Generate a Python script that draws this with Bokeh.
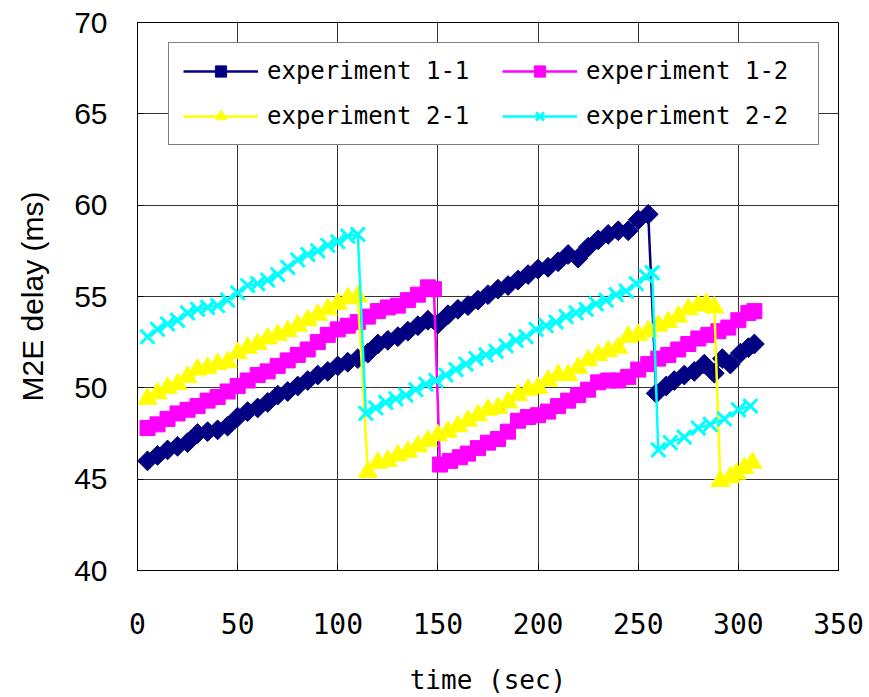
import math
from bokeh.plotting import figure
from bokeh.models import Legend, LegendItem, FixedTicker, Range1d
from bokeh.embed import file_html
from bokeh.resources import INLINE

x_ticks = [0, 50, 100, 150, 200, 250, 300, 350]
y_ticks = [40, 45, 50, 55, 60, 65, 70]

# experiment 1-1
t11 = [5, 10, 15, 20, 25, 30, 35, 40, 45, 50, 55, 60, 65, 70, 75, 80, 85, 90, 95, 100,
       105, 110, 115, 120, 125, 130, 135, 140, 145, 150, 155, 160, 165, 170, 175, 180,
       185, 190, 195, 200, 205, 210, 215, 220, 225, 230, 235, 240, 245, 250, 255,
       259, 264, 268, 273, 278, 283, 288, 292, 296, 301, 305, 308]
v11 = [46.0, 46.3, 46.6, 46.8, 47.0, 47.5, 47.6, 47.7, 47.9, 48.4, 48.7, 48.9, 49.2, 49.6,
       49.8, 50.1, 50.4, 50.7, 50.9, 51.2, 51.4, 51.6, 51.9, 52.4, 52.6, 52.8, 53.1, 53.4,
       53.7, 53.5, 54.0, 54.3, 54.5, 54.8, 55.1, 55.4, 55.6, 55.9, 56.2, 56.5, 56.6, 56.9,
       57.3, 57.1, 57.7, 58.1, 58.4, 58.6, 58.6, 59.2, 59.5,
       49.7, 50.1, 50.4, 50.7, 50.9, 51.3, 50.8, 51.6, 51.3, 51.9, 52.2, 52.4]

# experiment 1-2
t12 = [5, 10, 15, 20, 25, 30, 35, 40, 45, 50, 55, 60, 65, 70, 75, 80, 85, 90, 95, 100,
       105, 110, 115, 120, 125, 130, 135, 140, 145, 148,
       151, 156, 161, 165, 170, 175, 180, 185, 190, 195, 200, 205, 210, 215, 220, 225,
       230, 235, 240, 245, 250, 255, 260, 265, 270, 275, 280, 285, 290, 295, 300, 305, 308]
v12 = [47.8, 48.0, 48.3, 48.6, 48.8, 49.0, 49.3, 49.5, 49.8, 50.1, 50.4, 50.7, 50.9, 51.2,
       51.5, 51.8, 52.1, 52.5, 52.9, 53.2, 53.4, 53.6, 53.9, 54.2, 54.4, 54.5, 54.8, 55.1,
       55.5, 55.4,
       45.8, 46.0, 46.2, 46.4, 46.7, 47.0, 47.2, 47.6, 48.2, 48.4, 48.5, 48.7, 49.0, 49.3,
       49.6, 49.9, 50.3, 50.4, 50.4, 50.6, 51.0, 51.3, 51.6, 51.8, 52.1, 52.4, 52.7, 52.9,
       53.1, 53.3, 53.7, 54.1, 54.2]

# experiment 2-1
t21 = [5, 10, 15, 20, 25, 30, 35, 40, 45, 50, 55, 60, 65, 70, 75, 80, 85, 90, 95, 100,
       105, 110,
       115, 120, 125, 130, 135, 140, 145, 150, 155, 160, 165, 170, 175, 180, 185, 190, 195,
       200, 205, 210, 215, 220, 225, 230, 235, 240, 245, 250, 255, 260, 265, 270, 275, 280,
       284, 288,
       291, 296, 299, 303, 307]
v21 = [49.4, 49.7, 50.0, 50.2, 50.6, 51.0, 51.1, 51.3, 51.4, 51.9, 52.2, 52.4, 52.7, 52.9,
       53.1, 53.4, 53.7, 54.0, 54.3, 54.6, 54.9, 55.0,
       45.4, 45.9, 46.0, 46.3, 46.5, 46.8, 47.1, 47.4, 47.6, 47.9, 48.2, 48.5, 48.8, 48.9,
       49.2, 49.6, 49.9, 50.0, 50.4, 50.7, 50.7, 51.1, 51.5, 51.8, 52.0, 52.2, 52.8, 52.9,
       53.1, 53.4, 53.6, 53.9, 54.3, 54.5, 54.6, 54.4,
       44.9, 45.1, 45.3, 45.6, 45.9]

# experiment 2-2
t22 = [5, 10, 15, 20, 25, 30, 35, 40, 45, 50, 55, 60, 65, 70, 75, 80, 85, 90, 95, 100,
       105, 110,
       114, 119, 124, 129, 134, 139, 144, 149, 154, 159, 164, 169, 174, 179, 184, 189, 194,
       199, 204, 209, 214, 219, 224, 229, 234, 239, 244, 249, 254, 257,
       260, 266, 273, 280, 286, 293, 300, 306]
v22 = [52.8, 53.2, 53.5, 53.7, 54.1, 54.3, 54.4, 54.5, 54.8, 55.2, 55.6, 55.7, 55.9, 56.2,
       56.6, 57.0, 57.3, 57.5, 57.8, 58.0, 58.3, 58.4,
       48.6, 48.9, 49.2, 49.4, 49.6, 49.9, 50.2, 50.4, 50.7, 51.0, 51.3, 51.6, 51.8, 52.0,
       52.3, 52.6, 52.8, 53.2, 53.4, 53.6, 53.9, 54.1, 54.3, 54.6, 54.8, 55.1, 55.3, 55.7,
       56.1, 56.3,
       46.6, 47.0, 47.3, 47.8, 48.0, 48.3, 48.8, 49.0]

labels = ["experiment 1-1", "experiment 1-2", "experiment 2-1", "experiment 2-2"]

p = figure(width=869, height=697, x_range=Range1d(0, 350), y_range=Range1d(40, 70),
           output_backend="svg", toolbar_location=None,
           min_border_left=137, min_border_right=31, min_border_top=22, min_border_bottom=127)

p.outline_line_color = "black"
p.outline_line_width = 1
p.background_fill_color = "white"
p.border_fill_color = "white"

p.xaxis.ticker = FixedTicker(ticks=x_ticks)
p.yaxis.ticker = FixedTicker(ticks=y_ticks)
p.xgrid.ticker = FixedTicker(ticks=x_ticks)
p.ygrid.ticker = FixedTicker(ticks=y_ticks)
for g in (p.xgrid, p.ygrid):
    g.grid_line_color = "#333333"
    g.grid_line_width = 1
    g.grid_line_alpha = 1.0

for ax in (p.xaxis, p.yaxis):
    ax.axis_line_color = "black"
    ax.major_tick_in = 6
    ax.major_tick_out = 0
    ax.minor_tick_in = 0
    ax.minor_tick_out = 0
    ax.major_tick_line_color = "black"
    ax.major_label_text_color = "black"
    ax.axis_label_text_color = "black"
    ax.axis_label_text_font_style = "normal"

p.yaxis.major_label_text_font = "Liberation Sans"
p.yaxis.major_label_text_font_size = "30px"
p.yaxis.major_label_standoff = 30
p.yaxis.axis_label = "M2E delay (ms)"
p.yaxis.axis_label_text_font = "Liberation Sans"
p.yaxis.axis_label_text_font_size = "30px"
p.yaxis.axis_label_standoff = 22

p.xaxis.major_label_text_font = "DejaVu Sans Mono"
p.xaxis.major_label_text_font_size = "28px"
p.xaxis.major_label_standoff = 42
p.xaxis.axis_label = "time (sec)"
p.xaxis.axis_label_text_font = "DejaVu Sans Mono"
p.xaxis.axis_label_text_font_size = "26px"
p.xaxis.axis_label_standoff = 28

r11l = p.line(t11, v11, line_color="#000080", line_width=2.5)
r11m = p.scatter(t11, v11, marker="square", size=14, angle=math.pi / 4,
                 fill_color="#000080", line_color="#000080")
r12l = p.line(t12, v12, line_color="#FF00FF", line_width=2.5)
r12m = p.scatter(t12, v12, marker="square", size=15,
                 fill_color="#FF00FF", line_color="#FF00FF")
r21l = p.line(t21, v21, line_color="#FFFF00", line_width=2.5)
r21m = p.scatter(t21, v21, marker="triangle", size=19,
                 fill_color="#FFFF00", line_color="#FFFF00")
r22l = p.line(t22, v22, line_color="#00FFFF", line_width=2.5)
r22m = p.scatter(t22, v22, marker="x", size=20, line_width=3,
                 line_color="#00FFFF")

legend = Legend(
    items=[
        LegendItem(label=labels[0], renderers=[r11l, r11m]),
        LegendItem(label=labels[2], renderers=[r21l, r21m]),
        LegendItem(label=labels[1], renderers=[r12l, r12m]),
        LegendItem(label=labels[3], renderers=[r22l, r22m]),
    ],
    location=(31, 425),
    orientation="vertical",
    ncols=2,
    label_text_font="DejaVu Sans Mono",
    label_text_font_size="24px",
    label_text_color="black",
    glyph_width=75,
    glyph_height=28,
    label_standoff=9,
    label_width=218,
    spacing=17,
    padding=14,
    margin=0,
    border_line_color="black",
    border_line_width=1,
    background_fill_color="white",
    background_fill_alpha=1.0,
)
p.add_layout(legend, "center")

open("out.html", "w").write(file_html(p, INLINE))
